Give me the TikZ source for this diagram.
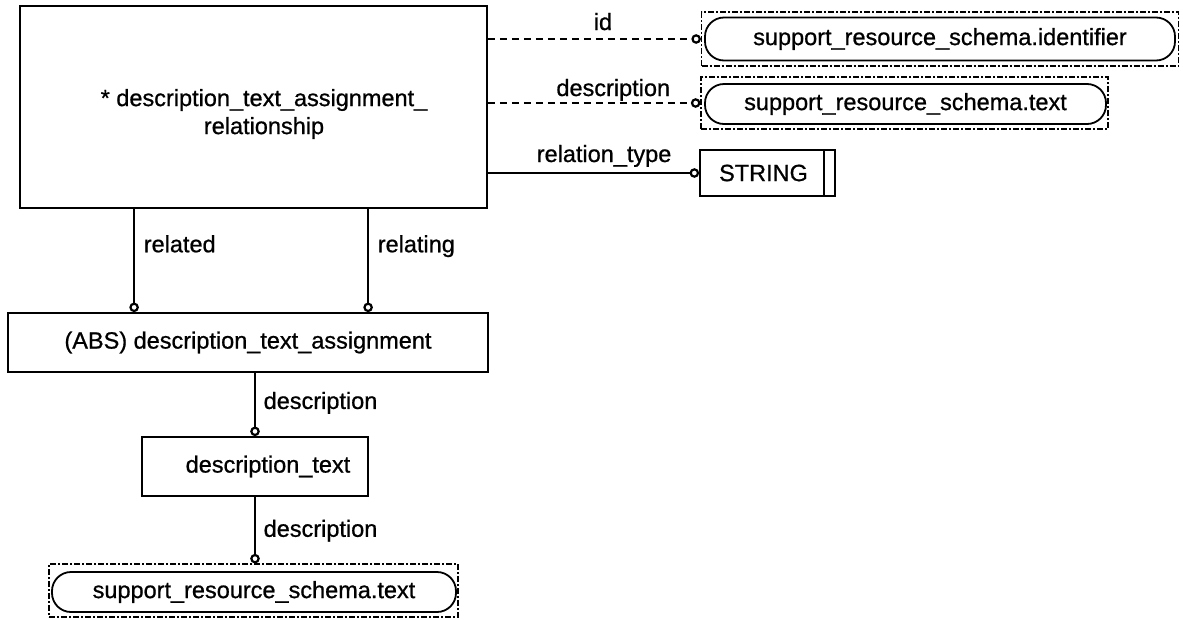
\documentclass[tikz,border=0pt]{standalone}
\usepackage{fontspec}
\setmainfont[FakeBold=0.8]{Liberation Sans}
\usetikzlibrary{arrows.meta}
\begin{document}
\begin{tikzpicture}[x=1pt,y=-1pt,
  txt/.style={font=\fontsize{23.5}{28}\selectfont},
  ent/.style={draw, line width=1.8pt, rectangle, inner sep=0pt, txt, align=center},
  typebox/.style={draw, line width=1.8pt, rectangle, rounded corners=19pt, inner sep=0pt, txt},
  outerbox/.style={draw, line width=1.2pt, dash pattern=on 6pt off 2pt on 2pt off 2pt, inner sep=0pt},
  conn/.style={line width=1.4pt, -{Circle[open, length=9.5pt, width=9.5pt, line width=2.2pt]}},
  dconn/.style={conn, dash pattern=on 7pt off 5pt},
  lbl/.style={txt, inner sep=0pt}
]
\useasboundingbox (0,0) rectangle (1183,619);

% main entity
\node[ent, minimum width=467pt, minimum height=202pt] (main) at (253.5,107) {};
\node[txt, align=center, inner sep=0pt] (maintxt) at (264,114) {* description\_text\_assignment\_\\relationship};

% abstract entity
\node[ent, minimum width=480pt, minimum height=59pt] (abs) at (248,342.5) {(ABS) description\_text\_assignment};

% description_text
\node[ent, minimum width=226pt, minimum height=59pt] (dt) at (255,466.5) {\hspace*{26pt}description\_text};

% STRING
\node[ent, minimum width=135pt, minimum height=46pt] (str) at (767.5,173) {STRING\hspace*{8pt}};
\draw[line width=1.8pt] ([xshift=-12pt]str.north east) -- ([xshift=-12pt]str.south east);

% type boxes
\node[outerbox, minimum width=477pt, minimum height=54pt] (t1o) at (940,39) {};
\node[typebox, minimum width=470pt, minimum height=43pt] (t1) at (940,39) {support\_resource\_schema.identifier};

\node[outerbox, minimum width=407pt, minimum height=52pt] (t2o) at (904.5,103) {};
\node[typebox, minimum width=401pt, minimum height=40pt] (t2) at (905.5,104) {support\_resource\_schema.text};

\node[outerbox, minimum width=409pt, minimum height=53pt] (t3o) at (253.5,590.5) {};
\node[typebox, minimum width=404pt, minimum height=40pt] (t3) at (254,592) {support\_resource\_schema.text};

% connectors
\draw[dconn] (main.east |- t1o.west) -- node[lbl, pos=0.54, anchor=base, yshift=9pt] (lid) {id} (t1o.west);
\draw[dconn] (main.east |- t2o.west) -- node[lbl, pos=0.59, anchor=base, yshift=7pt] (ldesc) {description} (t2o.west);
\draw[conn] (main.east |- str.west) -- node[lbl, pos=0.55, anchor=base, yshift=11pt] (lrt) {relation\_type} (str.west);

\draw[conn] ([xshift=115pt]main.south west) -- node[lbl, pos=0.42, anchor=base west, xshift=9pt] (lrel) {related} ([xshift=127pt]abs.north west);
\draw[conn] ([xshift=349pt]main.south west) -- node[lbl, pos=0.42, anchor=base west, xshift=9pt] (lrelg) {relating} ([xshift=361pt]abs.north west);

\draw[conn] (abs.south -| dt.north) -- node[lbl, pos=0.57, anchor=base west, xshift=8pt] (ld1) {description} (dt.north);
\draw[conn] (dt.south) -- node[lbl, pos=0.6, anchor=base west, xshift=8pt] (ld2) {description} (dt.south |- t3o.north);
\end{tikzpicture}
\end{document}
